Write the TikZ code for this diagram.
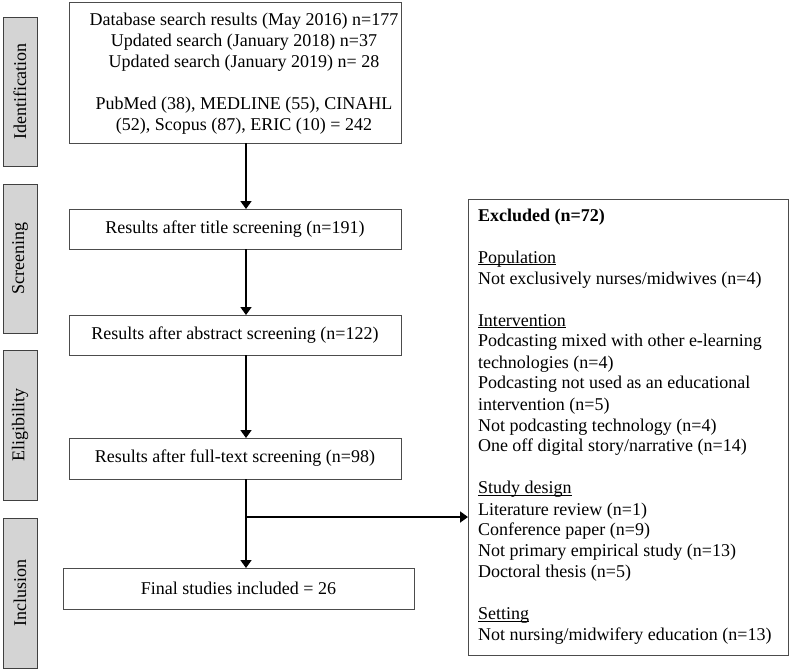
\documentclass[tikz,border=0pt]{standalone}
\usepackage{fontspec}
\setmainfont{Liberation Serif}
\usetikzlibrary{arrows.meta}
\newcommand\ulx[1]{\setbox0\hbox{#1}\rlap{\rule[-2.2pt]{\wd0}{0.8pt}}\box0}
\begin{document}
\begin{tikzpicture}[x=1pt,y=-1pt,
  every node/.style={inner sep=0pt,outer sep=0pt},
  stage/.style={draw=black!75,fill=black!17,line width=0.8pt},
  flowbox/.style={draw=black!70,fill=white,line width=0.8pt},
  txt/.style={font=\fontsize{18}{21}\selectfont,align=center},
  ltxt/.style={font=\fontsize{18}{21}\selectfont,align=left,anchor=north west},
  flow/.style={line width=1.8pt,-{Triangle[length=8pt,width=11pt]}}]
\useasboundingbox (0,0) rectangle (790,670);
% stage labels
\node[stage,minimum width=34pt,minimum height=149pt] (sid) at (20,91.5) {};
\node[rotate=90,txt] at (sid) {Identification};
\node[stage,minimum width=34pt,minimum height=149pt] (ssc) at (20,258.5) {};
\node[rotate=90,txt] at (ssc) {Screening};
\node[stage,minimum width=34pt,minimum height=150pt] (sel) at (20,425) {};
\node[rotate=90,txt] at (sel) {Eligibility};
\node[stage,minimum width=34pt,minimum height=150pt] (sin) at (20,593) {};
\node[rotate=90,txt] at (sin) {Inclusion};
% boxes
\node[flowbox,minimum width=332pt,minimum height=141pt] (b1) at (235,72.5) {};
\node[txt,anchor=north] at (244,13.5) {Database search results (May 2016) n=177\\Updated search (January 2018) n=37\\Updated search (January 2019) n= 28\\[21pt]PubMed (38), MEDLINE (55), CINAHL\\(52), Scopus (87), ERIC (10) = 242};
\node[flowbox,minimum width=332pt,minimum height=40pt] (b2) at (235,229) {};
\node[txt] at (b2) {Results after title screening (n=191)};
\node[flowbox,minimum width=332pt,minimum height=40pt] (b3) at (235,335) {};
\node[txt] at (b3) {Results after abstract screening (n=122)};
\node[flowbox,minimum width=332pt,minimum height=41pt] (b4) at (235,458.5) {};
\node[txt] at (b4) {Results after full-text screening (n=98)};
\node[flowbox,minimum width=351pt,minimum height=41pt] (b5) at (238.5,588.5) {};
\node[txt] at (b5) {Final studies included = 26};
\node[flowbox,minimum width=320pt,minimum height=456pt] (ex) at (628,427) {};
\node[ltxt] at (478,208.5) {\textbf{Excluded (n=72)}\\[21pt]
\ulx{Population}\\
Not exclusively nurses/midwives (n=4)\\[21pt]
\ulx{Intervention}\\
Podcasting mixed with other e-learning\\
technologies (n=4)\\
Podcasting not used as an educational\\
intervention (n=5)\\
Not podcasting technology (n=4)\\
One off digital story/narrative (n=14)\\[21pt]
\ulx{Study design}\\
Literature review (n=1)\\
Conference paper (n=9)\\
Not primary empirical study (n=13)\\
Doctoral thesis (n=5)\\[21pt]
\ulx{Setting}\\
Not nursing/midwifery education (n=13)};
% arrows
\coordinate (br) at (246,517);
\draw[flow] (b1.south -| br) -- (b2.north -| br);
\draw[flow] (b2.south -| br) -- (b3.north -| br);
\draw[flow] (b3.south -| br) -- (b4.north -| br);
\draw[flow] (b4.south -| br) -- (b5.north -| br);
\draw[flow] (br) -- (br -| ex.west);
\end{tikzpicture}
\end{document}
